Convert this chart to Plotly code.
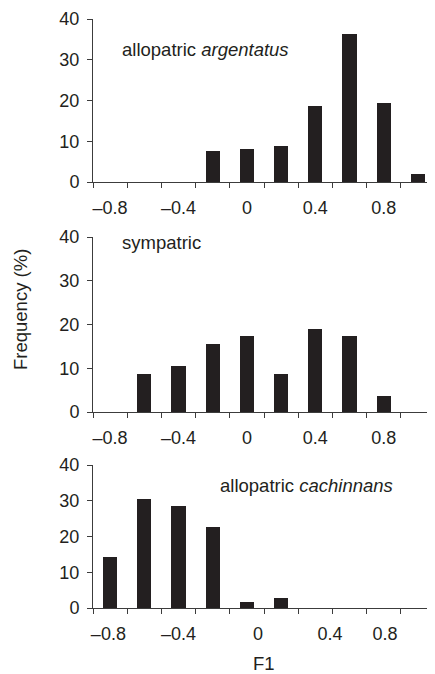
import plotly.graph_objects as go

# Bin centres of F1 (bin width 0.2)
f1_bins = [-0.8, -0.6, -0.4, -0.2, 0.0, 0.2, 0.4, 0.6, 0.8, 1.0]
bin_edges = [-0.9, -0.7, -0.5, -0.3, -0.1, 0.1, 0.3, 0.5, 0.7, 0.9, 1.1]

# Frequency (%)
allopatric_argentatus = [0, 0, 0, 7.5, 8.0, 8.8, 18.6, 36.4, 19.4, 2.0]
sympatric = [0, 8.8, 10.5, 15.6, 17.4, 8.8, 19.0, 17.4, 3.6, 0]
allopatric_cachinnans = [14.2, 30.5, 28.4, 22.7, 1.7, 2.8, 0, 0, 0, 0]

x_tick_vals = [-0.8, -0.4, 0.0, 0.4, 0.8]
x_tick_vals_bottom = [-0.81, -0.4, 0.065, 0.486, 0.808]
x_tick_text = ["\u20130.8", "\u20130.4", "0", "0.4", "0.8"]
y_tick_vals = [0, 10, 20, 30, 40]

panel_labels = ["allopatric <i>argentatus</i>", "sympatric", "allopatric <i>cachinnans</i>"]

BAR = "#231f20"
LINE = "#3c3c3c"
FONT = "Liberation Sans, Arial, Helvetica, sans-serif"
FS = 18
FS_T = 18.5

W, H = 427, 674   # page body has an 8px margin; window clips the extra
domains_px = [(11, 174), (229, 404), (457, 600)]
y_domains = [[(H - b) / H, (H - t) / H] for (t, b) in domains_px]

fig = go.Figure()
series = [allopatric_argentatus, sympatric, allopatric_cachinnans]
for i, vals in enumerate(series):
    ax = "" if i == 0 else str(i + 1)
    fig.add_trace(go.Bar(x=f1_bins, y=vals, width=0.084, marker=dict(color=BAR, line=dict(width=0)),
                         xaxis="x" + ax, yaxis="y" + ax, showlegend=False))

layout = dict(
    width=W, height=H,
    margin=dict(l=85, r=0, t=0, b=0),
    paper_bgcolor="white", plot_bgcolor="white",
    font=dict(family=FONT, size=FS, color="#231f20"),
    bargap=0,
)
for i in range(3):
    ax = "" if i == 0 else str(i + 1)
    tv = x_tick_vals_bottom if i == 2 else x_tick_vals
    layout["xaxis" + ax] = dict(
        range=[-0.9, 1.1], domain=[0, 1], anchor="y" + ax, automargin=False,
        showline=True, linecolor=LINE, linewidth=1,
        showgrid=False, zeroline=False,
        tickmode="array", tickvals=tv, ticktext=x_tick_text,
        ticks="", ticklabelstandoff=9,
        tickfont=dict(size=FS),
        minor=dict(tickmode="array", tickvals=bin_edges, ticks="outside", ticklen=5,
                   tickwidth=1, tickcolor=LINE, showgrid=False),
        fixedrange=True,
    )
    layout["yaxis" + ax] = dict(
        range=[0, 40], domain=y_domains[i], anchor="x" + ax, automargin=False,
        showline=True, linecolor=LINE, linewidth=1,
        showgrid=False, zeroline=False,
        tickmode="array", tickvals=y_tick_vals,
        ticks="outside", ticklen=5, tickwidth=1, tickcolor=LINE,
        ticklabelstandoff=4,
        tickfont=dict(size=FS),
    )

fig.update_layout(**layout)

ann_pos = [(0.079, 0.81), (0.079, 0.971), (0.365, 0.86)]
for i, (lab, (ax_x, ax_y)) in enumerate(zip(panel_labels, ann_pos)):
    ax = "" if i == 0 else str(i + 1)
    fig.add_annotation(text=lab, xref="x" + ax + " domain", yref="y" + ax + " domain",
                       x=ax_x, y=ax_y, xanchor="left", yanchor="middle", showarrow=False,
                       font=dict(size=FS_T))

fig.add_annotation(text="Frequency (%)", xref="paper", yref="paper",
                   x=(12 - 85) / 342, y=(H - 302) / H, xanchor="center", yanchor="middle",
                   textangle=-90, showarrow=False, font=dict(size=FS_T))

fig.add_annotation(text="F1", xref="x3 domain", yref="paper",
                   x=0.5, y=(H - 655) / H, xanchor="center", yanchor="middle",
                   showarrow=False, font=dict(size=FS_T))

fig.write_html("out.html")
